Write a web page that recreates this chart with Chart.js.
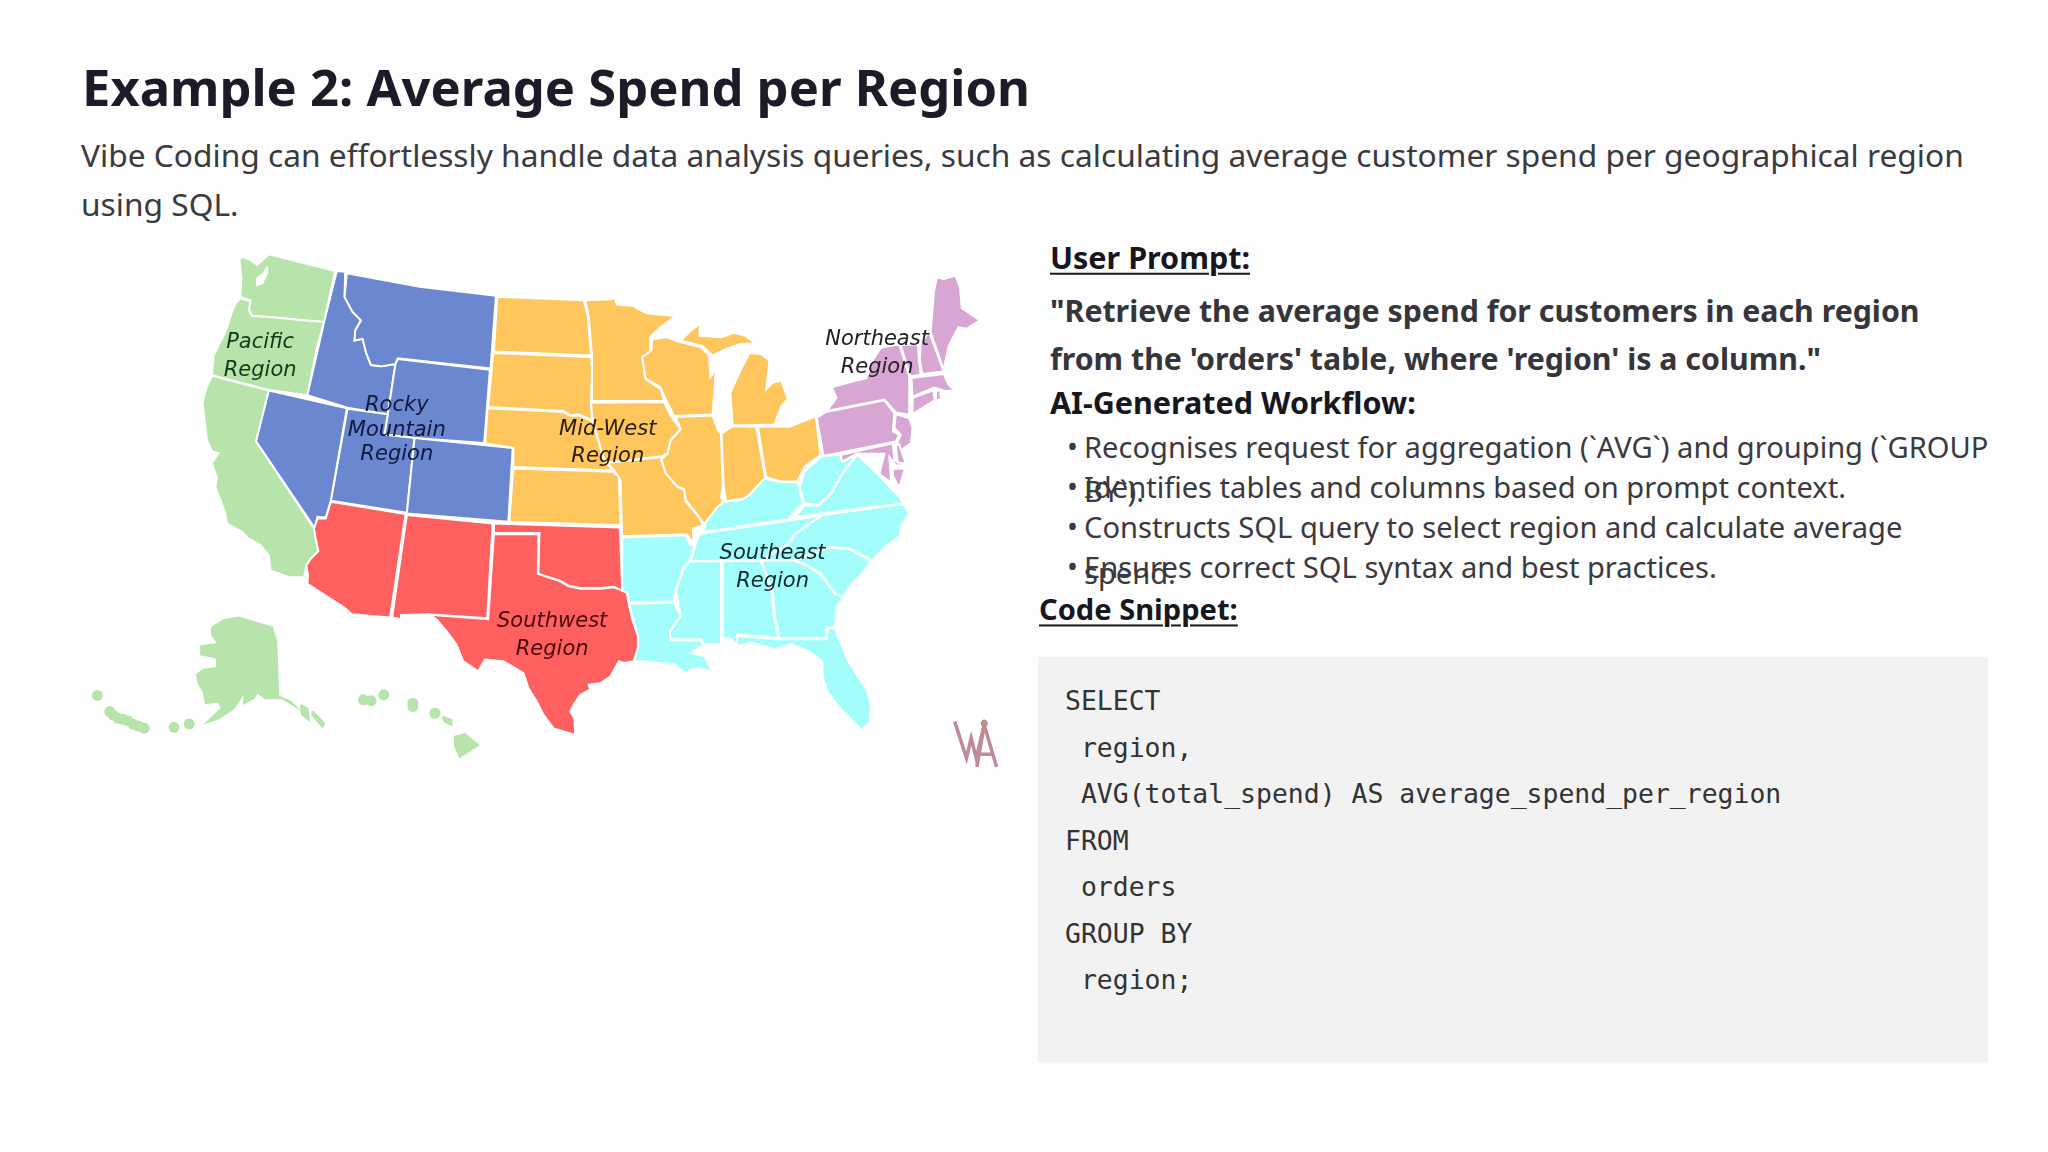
<!DOCTYPE html>
<html>
<head>
<meta charset="utf-8">
<title>Example 2: Average Spend per Region</title>
<script src="https://cdn.jsdelivr.net/npm/chart.js@4"></script>
<style>
    html, body { margin: 0; width: 2048px; height: 1152px; overflow: hidden; background: #fdfdfd; }
    body { font-family: "Noto Sans", sans-serif; position: relative; }
    .t { position: absolute; white-space: pre; line-height: 1; transform: translateY(-50%); }
    .title { font-size: 50.7px; font-weight: 700; color: #1c1c28; left: 82px; top: 87px; }
    .sub { font-size: 31.7px; color: #3a3a3f; left: 81px; }
    .head { font-size: 30.5px; font-weight: 700; color: #17171f; }
    .snippet { font-size: 29.1px; font-weight: 700; color: #17171f; }
    .quote { font-size: 30.3px; font-weight: 700; color: #35353a; left: 1050px; }
    .item { font-size: 29.1px; color: #3a3a3f; left: 1084px; }
    .dot { font-size: 29.1px; color: #3a3a3f; left: 1067px; }
    .code { font-family: "DejaVu Sans Mono", monospace; font-size: 26.45px; color: #333; left: 1065px; }
    u { text-decoration-thickness: 2px; text-underline-offset: 4px; }
    #panel { position: absolute; left: 78px; top: 239px; width: 922px; height: 529px; background: #fff; }
    #codebox { position: absolute; left: 1038px; top: 657px; width: 950px; height: 405px; background: #f2f2f2; }
    #map { position: absolute; left: 70px; top: 230px; }
</style>
</head>
<body>
<div class="t title">Example 2: Average Spend per Region</div>
<div class="t sub" style="top:155px">Vibe Coding can effortlessly handle data analysis queries, such as calculating average customer spend per geographical region</div>
<div class="t sub" style="top:204px">using SQL.</div>

<div id="panel"></div>
<canvas id="map" width="950" height="550"></canvas>

<div class="t head" style="left:1050px;top:257px"><u>User Prompt:</u></div>
<div class="t quote" style="top:311px">"Retrieve the average spend for customers in each region</div>
<div class="t quote" style="top:359px">from the 'orders' table, where 'region' is a column."</div>
<div class="t head" style="left:1050px;top:402px">AI-Generated Workflow:</div>
<div class="t dot" style="top:447px">•</div>
<div class="t item" style="top:448px">Recognises request for aggregation (`AVG`) and grouping (`GROUP</div>
<div class="t item" style="top:492px">BY`).</div>
<div class="t dot" style="top:487px">•</div>
<div class="t item" style="top:488px">Identifies tables and columns based on prompt context.</div>
<div class="t dot" style="top:527px">•</div>
<div class="t item" style="top:528px">Constructs SQL query to select region and calculate average</div>
<div class="t item" style="top:574px">spend.</div>
<div class="t dot" style="top:567px">•</div>
<div class="t item" style="top:568px">Ensures correct SQL syntax and best practices.</div>
<div class="t snippet" style="left:1039px;top:610px"><u>Code Snippet:</u></div>

<div id="codebox"></div>
<div class="t code" style="top:701px">SELECT</div>
<div class="t code" style="top:748px"> region,</div>
<div class="t code" style="top:794px"> AVG(total_spend) AS average_spend_per_region</div>
<div class="t code" style="top:841px">FROM</div>
<div class="t code" style="top:887px"> orders</div>
<div class="t code" style="top:934px">GROUP BY</div>
<div class="t code" style="top:980px"> region;</div>

<script>
// State outlines in map units
const washington = [[520,85],[545,95],[565,110],[600,78],[798,128],[765,280],[670,272],[600,265],[550,262],[540,240],[545,215],[515,205],[518,150],[512,95]];
const oregon = [[515,210],[545,218],[540,245],[550,262],[600,265],[670,272],[765,280],[745,350],[715,498],[600,482],[430,438],[435,380],[445,360],[470,310],[490,250],[500,225]];
const california = [[430,440],[600,484],[562,635],[735,895],[740,925],[748,962],[725,985],[712,1005],[705,1040],[660,1040],[605,1020],[600,975],[575,945],[540,925],[520,905],[475,880],[470,850],[440,770],[445,745],[430,700],[450,670],[430,665],[415,630],[408,570],[402,520],[412,480]];
const alaska = [[430,1190],[465,1168],[510,1160],[610,1190],[622,1230],[628,1395],[665,1410],[680,1425],[640,1400],[590,1400],[565,1382],[555,1400],[525,1415],[530,1378],[495,1430],[450,1460],[415,1472],[460,1430],[450,1410],[412,1415],[405,1380],[390,1355],[385,1330],[405,1315],[445,1310],[445,1280],[400,1270],[398,1245],[430,1240],[450,1240],[430,1210]];
const alaskaPanhandleA = [[695,1420],[715,1430],[720,1465],[700,1450]];
const alaskaPanhandleB = [[730,1438],[765,1475],[760,1485],[730,1450]];
const hawaiiBig = [[1155,1515],[1185,1507],[1225,1540],[1170,1575],[1155,1540]];
const hawaiiMaui = [[1118,1455],[1145,1465],[1145,1480],[1125,1470]];
const islandX = [88,125,135,150,165,178,195,210,228,317,362,882,905,943,1030,1030,1096];
const islandY = [1392,1440,1450,1460,1463,1467,1478,1483,1490,1487,1477,1405,1408,1390,1415,1425,1445];

const idaho = [[803,128],[828,130],[826,205],[850,250],[875,275],[858,305],[856,335],[880,330],[890,370],[905,408],[935,412],[978,405],[955,555],[835,535],[715,498],[765,280]];
const montana = [[833,135],[1050,175],[1278,202],[1262,418],[985,388],[978,405],[935,412],[905,408],[890,370],[880,330],[856,335],[858,305],[875,275],[850,250],[826,205]];
const wyoming = [[985,390],[1260,422],[1243,640],[1035,625],[945,615],[955,555],[978,405]];
const utah = [[835,538],[955,555],[945,615],[1035,625],[1012,848],[785,812]];
const colorado = [[1035,625],[1328,655],[1315,875],[1012,850]];
const nevada = [[600,484],[833,537],[785,812],[770,862],[745,860],[738,895],[562,635]];

const arizona = [[785,815],[1008,852],[962,1160],[848,1150],[825,1130],[715,1060],[717,1035],[712,1005],[725,985],[748,962],[740,925],[735,895],[745,865],[770,865]];
const newMexico = [[1012,855],[1268,880],[1252,1162],[1078,1150],[995,1152],[995,1165],[968,1160]];
const oklahoma = [[1272,880],[1648,892],[1655,1080],[1630,1068],[1590,1072],[1530,1072],[1495,1065],[1470,1050],[1405,1030],[1408,908],[1272,908]];
const texas = [[1272,912],[1405,912],[1403,1030],[1470,1052],[1495,1067],[1530,1074],[1590,1074],[1630,1070],[1668,1085],[1675,1120],[1685,1165],[1702,1215],[1702,1250],[1690,1290],[1660,1295],[1645,1290],[1620,1335],[1590,1355],[1555,1360],[1560,1375],[1530,1390],[1510,1420],[1500,1440],[1512,1460],[1515,1510],[1450,1490],[1420,1450],[1400,1410],[1375,1370],[1360,1325],[1300,1290],[1245,1285],[1225,1320],[1180,1290],[1160,1240],[1130,1200],[1100,1165],[1078,1152],[1255,1165]];

const northDakota = [[1282,205],[1540,215],[1552,262],[1562,380],[1272,368]];
const southDakota = [[1270,372],[1562,384],[1565,420],[1562,518],[1565,572],[1525,555],[1500,558],[1480,545],[1255,533]];
const nebraska = [[1253,537],[1480,548],[1500,560],[1525,558],[1565,575],[1582,625],[1600,690],[1628,722],[1330,712],[1330,655],[1246,642]];
const kansas = [[1330,716],[1628,726],[1645,740],[1650,885],[1318,875]];
const missouri = [[1610,700],[1775,682],[1772,690],[1785,730],[1820,770],[1840,780],[1845,815],[1880,855],[1898,885],[1866,895],[1868,940],[1848,912],[1655,918],[1650,750],[1632,722]];
const iowa = [[1562,520],[1780,518],[1800,560],[1830,600],[1800,630],[1790,670],[1775,680],[1610,698],[1598,680],[1582,625],[1567,575]];
const minnesota = [[1545,215],[1625,212],[1630,205],[1640,228],[1690,232],[1700,240],[1730,255],[1815,262],[1770,295],[1738,325],[1738,370],[1715,385],[1725,450],[1770,480],[1780,515],[1565,515],[1565,420],[1565,380],[1555,262]];
const wisconsin = [[1745,332],[1785,325],[1830,340],[1890,355],[1915,380],[1918,445],[1935,420],[1925,555],[1810,560],[1780,500],[1770,475],[1725,448],[1715,385],[1742,365]];
const michiganUpper = [[1830,335],[1860,305],[1888,285],[1885,320],[1950,325],[1990,312],[2020,320],[2055,345],[2010,345],[1960,362],[1925,380],[1895,352]];
const michiganLower = [[2035,372],[2070,375],[2095,395],[2085,480],[2105,460],[2130,455],[2150,510],[2130,530],[2110,585],[1985,588],[1978,490],[2010,420]];
const illinois = [[1815,563],[1925,558],[1940,600],[1950,612],[1955,770],[1950,800],[1955,815],[1910,870],[1900,882],[1880,855],[1845,810],[1840,778],[1820,770],[1785,730],[1772,690],[1790,672],[1800,632],[1830,600]];
const indiana = [[1952,612],[1985,590],[2055,592],[2082,745],[2040,790],[2025,805],[1985,810],[1965,815],[1958,770]];
const ohio = [[2060,590],[2155,592],[2233,561],[2247,675],[2200,710],[2178,755],[2130,755],[2085,742]];

const pennsylvania = [[2236,565],[2261,549],[2438,513],[2468,552],[2463,605],[2482,616],[2472,636],[2256,679]];
const newYork = [[2266,545],[2295,506],[2281,474],[2320,463],[2384,447],[2404,392],[2428,356],[2482,346],[2512,442],[2512,556],[2472,549],[2438,511]];
const vermont = [[2487,349],[2538,346],[2541,392],[2546,437],[2515,442]];
const newHampshire = [[2546,346],[2571,308],[2615,427],[2551,435],[2544,392]];
const maine = [[2595,147],[2615,152],[2650,142],[2664,177],[2669,239],[2723,275],[2684,300],[2659,295],[2630,351],[2615,422],[2576,310],[2586,188]];
const massachusetts = [[2519,447],[2615,435],[2630,468],[2650,483],[2620,485],[2586,475],[2522,502]];
const connecticut = [[2522,506],[2584,483],[2588,513],[2522,554]];
const rhodeIsland = [[2592,483],[2605,485],[2607,511],[2592,513]];
const newJersey = [[2472,554],[2512,567],[2522,595],[2517,641],[2482,666],[2475,641],[2487,616],[2468,595]];
const maryland = [[2308,675],[2463,641],[2468,692],[2502,705],[2472,707],[2453,682],[2458,758],[2423,733],[2438,672],[2354,672],[2310,698]];
const delaware = [[2472,646],[2482,644],[2502,702],[2477,698]];
const delmarva = [[2463,717],[2499,717],[2482,774],[2463,737]];

const westVirginia = [[2251,679],[2305,675],[2312,696],[2355,675],[2310,735],[2280,790],[2240,825],[2200,820],[2185,770],[2200,725]];
const virginia = [[2200,825],[2240,828],[2280,790],[2310,735],[2357,675],[2420,735],[2458,775],[2485,805],[2495,820],[2170,860],[2150,870],[2185,845]];
const kentucky = [[1905,875],[1940,830],[1960,815],[2010,810],[2035,795],[2080,745],[2120,755],[2180,758],[2195,820],[2170,845],[2150,868],[1900,905]];
const tennessee = [[1900,908],[2150,872],[2250,856],[2170,912],[2150,940],[2070,988],[1860,992],[1875,940],[1885,915]];
const northCarolina = [[2252,855],[2495,822],[2510,850],[2485,895],[2487,915],[2440,950],[2400,990],[2335,955],[2275,950],[2170,988],[2075,988],[2150,942],[2172,912]];
const southCarolina = [[2170,990],[2275,952],[2335,957],[2398,992],[2370,1030],[2340,1060],[2315,1098],[2290,1088],[2250,1030],[2200,1000]];
const georgia = [[2070,990],[2165,990],[2200,1002],[2248,1032],[2290,1090],[2315,1100],[2295,1130],[2290,1190],[2265,1190],[2265,1222],[2125,1222],[2110,1150],[2105,1080]];
const alabama = [[1955,992],[2068,990],[2100,1075],[2108,1150],[2122,1222],[1998,1210],[2000,1245],[1990,1235],[1975,1220],[1955,1225]];
const mississippi = [[1860,992],[1950,992],[1950,1240],[1900,1240],[1890,1225],[1800,1225],[1798,1200],[1830,1155],[1815,1080],[1840,1010]];
const louisiana = [[1675,1120],[1810,1115],[1830,1155],[1797,1200],[1800,1228],[1890,1228],[1900,1240],[1860,1265],[1900,1275],[1925,1323],[1880,1310],[1840,1325],[1810,1300],[1720,1290],[1690,1290],[1702,1250],[1702,1215]];
const arkansas = [[1655,922],[1845,915],[1855,942],[1870,940],[1858,990],[1838,1010],[1812,1085],[1810,1112],[1675,1115],[1672,1085],[1655,1080]];
const florida = [[1998,1215],[2125,1225],[2265,1225],[2270,1192],[2290,1192],[2330,1290],[2385,1375],[2398,1420],[2395,1470],[2370,1495],[2340,1465],[2310,1435],[2270,1385],[2255,1340],[2252,1290],[2210,1260],[2160,1240],[2110,1255],[2040,1235],[2000,1245]];

const pugetSound = [[595,115],[585,135],[565,150],[565,170],[580,165],[595,135]];

const watermarkW = [[2648,1470],[2683,1579],[2697,1519],[2712,1579],[2736,1480],[2773,1605]];
const watermarkA = [[2714,1605],[2736,1480]];
const watermarkBar = [[2724,1567],[2760,1567]];
const watermarkDot = [[2736,1475]];

const regionLabels = ['Pacific', 'Region', 'Rocky', 'Mountain', 'Region', 'Mid-West', 'Region', 'Northeast', 'Region', 'Southeast', 'Region', 'Southwest', 'Region'];
const labelX = [574, 574, 982, 982, 982, 1612, 1612, 2416, 2416, 2104, 2104, 1446, 1446];
const labelY = [340, 425, 528, 603, 675, 600, 680, 333, 416, 969, 1052, 1172, 1254];
const labelInk = ['#123a18', '#123a18', '#101a40', '#101a40', '#101a40', '#2b1c05', '#2b1c05', '#222028', '#222028', '#0c2a30', '#0c2a30', '#4a0a0a', '#4a0a0a'];

const regions = [
    { color: '#b7e4ab', states: [washington, oregon, california] },
    { color: '#6b87cf', states: [idaho, montana, wyoming, utah, colorado, nevada] },
    { color: '#fe5f5f', states: [arizona, newMexico, oklahoma, texas] },
    { color: '#fec65c', states: [northDakota, southDakota, nebraska, kansas, missouri, iowa, minnesota, wisconsin, michiganUpper, michiganLower, illinois, indiana, ohio] },
    { color: '#d8a6d2', states: [pennsylvania, newYork, vermont, newHampshire, maine, massachusetts, connecticut, rhodeIsland, newJersey, maryland, delaware, delmarva] },
    { color: '#a3fefb', states: [westVirginia, virginia, kentucky, tennessee, northCarolina, southCarolina, georgia, alabama, mississippi, louisiana, arkansas, florida] }
];
const offshore = [alaska, alaskaPanhandleA, alaskaPanhandleB, hawaiiBig, hawaiiMaui];
const offshoreColor = '#b7e4ab';
const watermarkColor = '#c08a94';

function toPoints(outline) {
    return outline.map(p => ({ x: p[0], y: p[1] }));
}

// Closed, filled polygon as a scatter dataset
function polygon(outline, color, border) {
    const points = toPoints(outline);
    points.push(points[0]);
    return {
        data: points,
        showLine: true,
        fill: 'shape',
        backgroundColor: color,
        borderColor: border,
        borderWidth: 2,
        pointRadius: 0,
        tension: 0
    };
}

function stroke(outline, color) {
    return {
        data: toPoints(outline),
        showLine: true,
        fill: false,
        borderColor: color,
        borderWidth: 3.5,
        pointRadius: 0,
        tension: 0
    };
}

function dots(points, color, radius) {
    return {
        data: points,
        showLine: false,
        backgroundColor: color,
        borderWidth: 0,
        pointRadius: radius
    };
}

const datasets = [];
regions.forEach(region => {
    region.states.forEach(state => datasets.push(polygon(state, region.color, '#ffffff')));
});
offshore.forEach(part => datasets.push(polygon(part, offshoreColor, offshoreColor)));
datasets.push(polygon(pugetSound, '#ffffff', '#ffffff'));
datasets.push(dots(islandX.map((x, i) => ({ x: x, y: islandY[i] })), offshoreColor, 5.5));
datasets.push(stroke(watermarkW, watermarkColor));
datasets.push(stroke(watermarkA, watermarkColor));
datasets.push(stroke(watermarkBar, watermarkColor));
datasets.push(dots(toPoints(watermarkDot), watermarkColor, 3.5));
// Later polygons have to paint over earlier ones
datasets.forEach((d, i) => { d.order = datasets.length - i; });

// Region names sit on the map at scale positions
const regionLabelPlugin = {
    id: 'regionLabels',
    afterDatasetsDraw(chart) {
        const ctx = chart.ctx;
        ctx.save();
        ctx.font = 'oblique 21px "DejaVu Sans"';
        ctx.textAlign = 'center';
        ctx.textBaseline = 'middle';
        regionLabels.forEach((label, i) => {
            ctx.fillStyle = labelInk[i];
            ctx.fillText(label, chart.scales.x.getPixelForValue(labelX[i]), chart.scales.y.getPixelForValue(labelY[i]));
        });
        ctx.restore();
    }
};

new Chart(document.getElementById('map'), {
    type: 'scatter',
    data: { datasets: datasets },
    plugins: [regionLabelPlugin],
    options: {
        responsive: false,
        animation: false,
        layout: { padding: 0 },
        plugins: { legend: { display: false }, tooltip: { enabled: false } },
        scales: {
            x: { type: 'linear', display: false, min: 22.7, max: 2826.4 },
            y: { type: 'linear', display: false, min: 22.3, max: 1627.4, reverse: true }
        }
    }
});
</script>
</body>
</html>
